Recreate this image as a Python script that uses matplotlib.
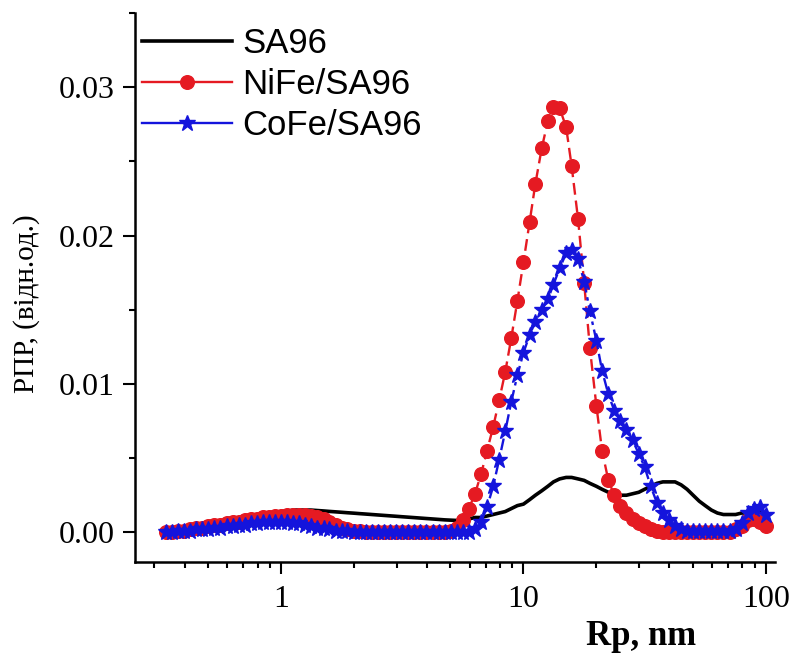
import matplotlib
matplotlib.use("Agg")
import matplotlib.pyplot as plt
from matplotlib.lines import Line2D
from matplotlib.ticker import LogLocator, NullFormatter, MultipleLocator, FixedLocator

plt.rcParams['font.family'] = ['Liberation Serif', 'DejaVu Serif']

# pore radius grid, nm
rp = [0.335, 0.355, 0.376, 0.398, 0.422, 0.447, 0.473, 0.501, 0.531, 0.562,
      0.596, 0.631, 0.668, 0.708, 0.750, 0.794, 0.841, 0.891, 0.944, 1.00,
      1.06, 1.12, 1.19, 1.26, 1.33, 1.41, 1.50, 1.58, 1.68, 1.78,
      1.88, 2.00, 2.11, 2.24, 2.37, 2.51, 2.66, 2.82, 2.99, 3.16,
      3.35, 3.55, 3.76, 3.98, 4.22, 4.47, 4.73, 5.01, 5.31, 5.62,
      5.96, 6.31, 6.68, 7.08, 7.50, 7.94, 8.41, 8.91, 9.44, 10.0,
      10.6, 11.2, 11.9, 12.6, 13.3, 14.1, 15.0, 15.8, 16.8, 17.8,
      18.8, 20.0, 21.1, 22.4, 23.7, 25.1, 26.6, 28.2, 29.9, 31.6,
      33.5, 35.5, 37.6, 39.8, 42.2, 44.7, 47.3, 50.1, 53.1, 56.2,
      59.6, 63.1, 66.8, 70.8, 75.0, 79.4, 84.1, 89.1, 94.4, 100.0]

sa96 = [0.0001, 0.0001, 0.0002, 0.0002, 0.0003, 0.0003, 0.0004, 0.0005, 0.0005, 0.0006,
        0.0007, 0.0008, 0.0009, 0.0010, 0.0010, 0.0011, 0.0012, 0.0013, 0.0013, 0.0014,
        0.0014, 0.0015, 0.0015, 0.0015, 0.0015, 0.00147, 0.00144, 0.00141, 0.00138, 0.00135,
        0.00132, 0.00129, 0.00126, 0.00123, 0.00120, 0.00117, 0.00114, 0.00111, 0.00108, 0.00105,
        0.00102, 0.00099, 0.00096, 0.00093, 0.00090, 0.00087, 0.00084, 0.00082, 0.0008, 0.0008,
        0.0009, 0.0010, 0.0010, 0.0011, 0.0012, 0.0013, 0.0014, 0.0016, 0.0018, 0.0019,
        0.0022, 0.0025, 0.0028, 0.0031, 0.0034, 0.0036, 0.0037, 0.0037, 0.0036, 0.0035,
        0.0033, 0.0031, 0.0029, 0.0027, 0.0025, 0.0025, 0.0025, 0.0026, 0.0027, 0.0029,
        0.0031, 0.0033, 0.0034, 0.0034, 0.0034, 0.0032, 0.0029, 0.0025, 0.0021, 0.0018,
        0.0015, 0.0013, 0.0012, 0.0012, 0.0012, 0.0013, 0.0013, 0.0014, 0.0014, 0.0013]

nife = [0.0000, 0.0000, 0.0001, 0.0001, 0.0002, 0.0003, 0.0003, 0.0004, 0.0005, 0.0005,
        0.0006, 0.0007, 0.0007, 0.0008, 0.0009, 0.0009, 0.0010, 0.0010, 0.0011, 0.0011,
        0.0012, 0.0012, 0.0012, 0.0012, 0.0011, 0.0010, 0.0009, 0.0007, 0.0005, 0.0003,
        0.0002, 0.0001, 0.0001, 0.0000, 0.0000, 0.0000, 0.0000, 0.0000, 0.0000, 0.0000,
        0.0000, 0.0000, 0.0000, 0.0000, 0.0000, 0.0000, 0.0000, 0.0001, 0.0003, 0.0008,
        0.0016, 0.0026, 0.0039, 0.0055, 0.0071, 0.0089, 0.0108, 0.0131, 0.0156, 0.0182,
        0.0209, 0.0235, 0.0259, 0.0277, 0.0287, 0.0286, 0.0273, 0.0247, 0.0211, 0.0168,
        0.0124, 0.0085, 0.0055, 0.0035, 0.0025, 0.0018, 0.0013, 0.0009, 0.0006, 0.0004,
        0.0002, 0.0001, 0.0000, 0.0000, 0.0000, 0.0000, 0.0000, 0.0000, 0.0000, 0.0000,
        0.0000, 0.0000, 0.0000, 0.0000, 0.0002, 0.0004, 0.0008, 0.0009, 0.0007, 0.0004]

cofe = [0.0000, 0.0000, 0.0001, 0.0001, 0.0001, 0.0002, 0.0002, 0.0002, 0.0003, 0.0003,
        0.0004, 0.0004, 0.0005, 0.0005, 0.0006, 0.0006, 0.0007, 0.0007, 0.0007, 0.0007,
        0.0007, 0.0006, 0.0006, 0.0005, 0.0004, 0.0003, 0.0003, 0.0002, 0.0001, 0.0001,
        0.0001, 0.0000, 0.0000, 0.0000, 0.0000, 0.0000, 0.0000, 0.0000, 0.0000, 0.0000,
        0.0000, 0.0000, 0.0000, 0.0000, 0.0000, 0.0000, 0.0000, 0.0000, 0.0000, 0.0000,
        0.0000, 0.0002, 0.0007, 0.0017, 0.0031, 0.0049, 0.0068, 0.0088, 0.0106, 0.0121,
        0.0133, 0.0142, 0.0150, 0.0157, 0.0167, 0.0178, 0.0188, 0.0190, 0.0184, 0.0169,
        0.0149, 0.0129, 0.0109, 0.0093, 0.0082, 0.0075, 0.0069, 0.0062, 0.0053, 0.0044,
        0.0031, 0.0020, 0.0013, 0.0008, 0.0004, 0.0002, 0.0001, 0.0001, 0.0001, 0.0001,
        0.0001, 0.0001, 0.0001, 0.0001, 0.0002, 0.0006, 0.0013, 0.0016, 0.0017, 0.0012]

labels = ["SA96", "NiFe/SA96", "CoFe/SA96"]
red = '#e51a22'
blue = '#1414dc'

fig = plt.figure(figsize=(7.92, 6.59), dpi=100)
ax = fig.add_axes([0.1705, 0.1472, 0.808, 0.833])

ax.plot(rp, sa96, color='black', lw=2.6, zorder=2)
ax.plot(rp, nife, color=red, lw=1.7, ls=(0, (5, 2.5)), marker='o', ms=9.8,
        mec=red, mfc=red, zorder=3)
ax.plot(rp, cofe, color=blue, lw=1.7, ls=(0, (5, 2, 1.5, 2)), marker='*', ms=12,
        mec=blue, mfc=blue, zorder=4)

ax.set_xscale('log')
ax.set_xlim(0.25, 109)
ax.set_ylim(-0.002, 0.035)

ax.xaxis.set_major_locator(FixedLocator([1, 10, 100]))
ax.xaxis.set_major_formatter(matplotlib.ticker.FixedFormatter(['1', '10', '100']))
ax.xaxis.set_minor_locator(LogLocator(base=10, subs=[2, 3, 4, 5, 6, 7, 8, 9], numticks=20))
ax.xaxis.set_minor_formatter(NullFormatter())
ax.yaxis.set_major_locator(FixedLocator([0.0, 0.01, 0.02, 0.03]))
ax.yaxis.set_major_formatter(matplotlib.ticker.FormatStrFormatter('%.2f'))
ax.yaxis.set_minor_locator(MultipleLocator(0.005))

for side in ['top', 'right']:
    ax.spines[side].set_visible(False)
for side in ['left', 'bottom']:
    ax.spines[side].set_linewidth(1.8)

ax.tick_params(which='major', length=8.5, width=1.5, labelsize=23, direction='out')
ax.tick_params(which='minor', length=4.5, width=1.5, direction='out')
ax.tick_params(axis='x', which='major', pad=8)
ax.tick_params(axis='y', which='major', pad=6)

ax.set_ylabel("РПР, (відн.од.)", fontsize=21)
ax.yaxis.set_label_coords(-0.148, 0.47)
ax.set_xlabel("Rp, nm", fontsize=25, fontweight='bold')
ax.xaxis.set_label_coords(0.79, -0.105)

handles = [
    Line2D([], [], color='black', lw=2.6),
    Line2D([], [], color=red, lw=1.7, marker='o', ms=9.8),
    Line2D([], [], color=blue, lw=1.7, marker='*', ms=12),
]
leg = ax.legend(handles, labels, loc='upper left', bbox_to_anchor=(0.011, 0.975),
                frameon=False, borderpad=0, borderaxespad=0, handlelength=2.6,
                handletextpad=0.29, labelspacing=0.24,
                prop={'family': 'Liberation Sans', 'size': 25})

fig.savefig("out.png", dpi=100)
